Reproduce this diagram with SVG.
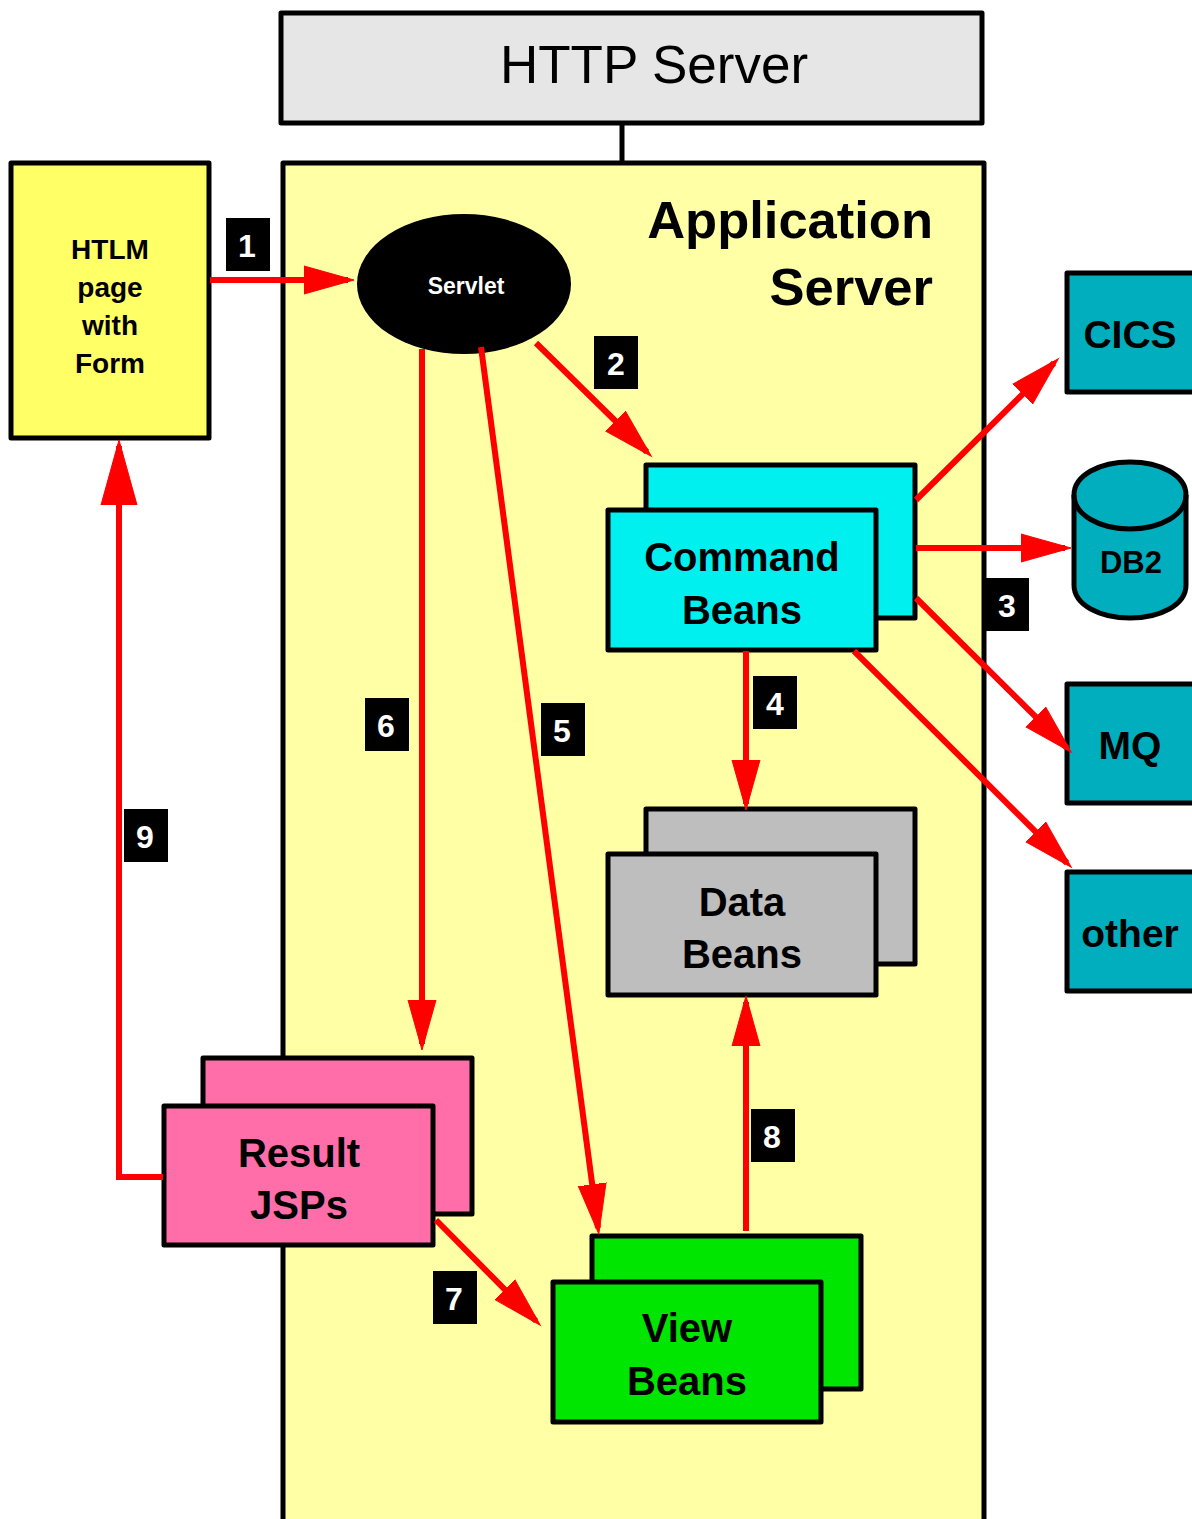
<svg xmlns="http://www.w3.org/2000/svg" width="1192" height="1519" viewBox="0 0 1192 1519">
<style>
text{font-family:"Liberation Sans",Arial,sans-serif;font-weight:bold;fill:#000;text-anchor:middle}
.b{stroke:#000;stroke-width:5;stroke-linejoin:round}
.big{font-size:40px}
.ext{font-size:39px}
.sm{font-size:28px}
.tag{fill:#000}
.num{fill:#fff;font-size:32px}
.c{fill:none;stroke:#f00;stroke-width:6}
.ah{font-size:52.5px;text-anchor:end}
</style>
<defs>
<marker id="a" markerUnits="userSpaceOnUse" markerWidth="52" markerHeight="32" refX="44" refY="15" orient="auto"><path d="M0 1L50 15L0 29Z" fill="#f00" stroke="#f00" stroke-width="1"/></marker>
<marker id="l" markerUnits="userSpaceOnUse" markerWidth="68" markerHeight="40" refX="59" refY="19" orient="auto"><path d="M0 1L65 19L0 37Z" fill="#f00" stroke="#f00" stroke-width="1"/></marker>
</defs>
<rect width="1192" height="1519" fill="#fff"/>
<g id="http-server"><rect class="b" x="281" y="13" width="701" height="110" fill="#e6e6e6"/><text x="654" y="83" style="font-weight:normal;font-size:53px">HTTP Server</text></g>
<g id="app-server"><path d="M622 122V163" stroke="#000" stroke-width="5"/><rect class="b" x="283" y="163" width="701" height="1370" fill="#ffffa6"/><text x="933" y="238" class="ah">Application</text><text x="933" y="305" class="ah">Server</text></g>
<g id="html-form"><rect class="b" x="11" y="163" width="198" height="275" fill="#ffff66"/><text x="110" y="259" class="sm">HTLM</text><text x="110" y="297" class="sm">page</text><text x="110" y="335" class="sm">with</text><text x="110" y="373" class="sm">Form</text></g>
<g id="servlet"><ellipse cx="464" cy="284" rx="107" ry="70" fill="#000"/><text x="466" y="294" style="fill:#fff;font-size:23px">Servlet</text></g>
<g id="command-beans"><rect class="b" x="646" y="465" width="269" height="153" fill="#00f0f0"/><rect class="b" x="608" y="510" width="268" height="140" fill="#00f0f0"/><text x="742" y="571" class="big">Command</text><text x="742" y="624" class="big">Beans</text></g>
<g id="data-beans"><rect class="b" x="646" y="809" width="269" height="155" fill="#bebebe"/><rect class="b" x="608" y="854" width="268" height="141" fill="#bebebe"/><text x="742" y="916" class="big">Data</text><text x="742" y="968" class="big">Beans</text></g>
<g id="result-jsps"><rect class="b" x="203" y="1058" width="269" height="156" fill="#ff6ea8"/><rect class="b" x="164" y="1106" width="269" height="139" fill="#ff6ea8"/><text x="299" y="1167" class="big">Result</text><text x="299" y="1219" class="big">JSPs</text></g>
<g id="view-beans"><rect class="b" x="592" y="1236" width="269" height="153" fill="#00e600"/><rect class="b" x="553" y="1282" width="268" height="140" fill="#00e600"/><text x="687" y="1342" class="big">View</text><text x="687" y="1395" class="big">Beans</text></g>
<g id="cics"><rect class="b" x="1067" y="273" width="130" height="119" fill="#00aebd"/><text x="1130" y="348" class="ext">CICS</text></g>
<g id="db2"><path class="b" d="M1074 495V585C1074 605 1100 618 1130 618C1160 618 1186 605 1186 585V495C1186 475 1160 462 1130 462C1100 462 1074 475 1074 495Z" fill="#00aebd"/><path class="b" d="M1074 495C1074 515 1100 529 1130 529C1160 529 1186 515 1186 495" fill="none"/><text x="1131" y="573" style="font-size:31px">DB2</text></g>
<g id="mq"><rect class="b" x="1067" y="684" width="130" height="119" fill="#00aebd"/><text x="1130" y="759" class="ext">MQ</text></g>
<g id="other"><rect class="b" x="1067" y="872" width="130" height="119" fill="#00aebd"/><text x="1130" y="947" class="ext">other</text></g>
<g id="connectors">
<path class="c" marker-end="url(#a)" d="M210 280H348"/>
<path class="c" marker-end="url(#a)" d="M536 343L647 452"/>
<path class="c" marker-end="url(#a)" d="M916 500L1054 363"/>
<path class="c" marker-end="url(#a)" d="M916 548H1065"/>
<path class="c" marker-end="url(#a)" d="M916 598L1067 748"/>
<path class="c" marker-end="url(#a)" d="M854 651L1067 863"/>
<path class="c" marker-end="url(#a)" d="M746 651V804"/>
<path class="c" marker-end="url(#a)" d="M481 347L598 1228"/>
<path class="c" marker-end="url(#a)" d="M422 349V1044"/>
<path class="c" marker-end="url(#a)" d="M436 1220L536 1321"/>
<path class="c" marker-end="url(#a)" d="M746 1231V1002"/>
<path class="c" marker-end="url(#l)" d="M163 1177H119V446"/>
</g>
<g id="labels">
<rect class="tag" x="226" y="218" width="44" height="53"/><text class="num" x="247" y="257">1</text>
<rect class="tag" x="594" y="336" width="44" height="53"/><text class="num" x="616" y="375">2</text>
<rect class="tag" x="985" y="578" width="44" height="53"/><text class="num" x="1007" y="617">3</text>
<rect class="tag" x="753" y="676" width="44" height="53"/><text class="num" x="775" y="715">4</text>
<rect class="tag" x="541" y="703" width="44" height="53"/><text class="num" x="562" y="742">5</text>
<rect class="tag" x="365" y="698" width="44" height="53"/><text class="num" x="386" y="737">6</text>
<rect class="tag" x="433" y="1271" width="44" height="53"/><text class="num" x="454" y="1310">7</text>
<rect class="tag" x="751" y="1109" width="44" height="53"/><text class="num" x="772" y="1148">8</text>
<rect class="tag" x="124" y="809" width="44" height="53"/><text class="num" x="145" y="848">9</text>
</g>
</svg>
